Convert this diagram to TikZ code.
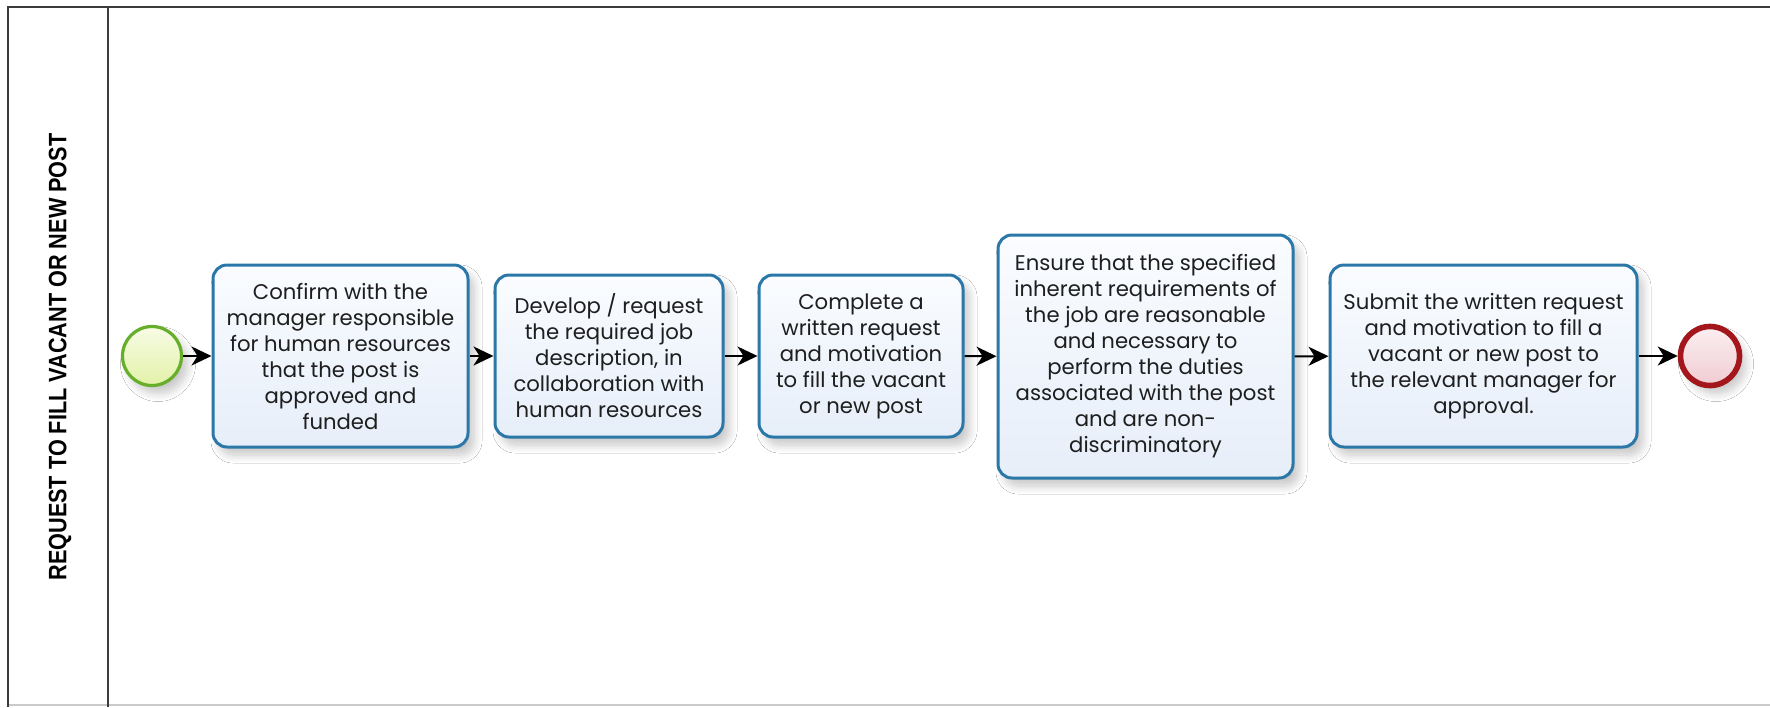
\documentclass[tikz,border=0pt]{standalone}
\usepackage{fontspec}
\setmainfont{Poppins}
\newfontfamily\lanefont[FakeStretch=0.86]{Liberation Sans}
\usetikzlibrary{arrows.meta,shadows.blur}

\definecolor{framegray}{HTML}{3C3C3C}
\definecolor{lightline}{HTML}{CACACA}
\definecolor{taskborder}{HTML}{2B78A8}
\definecolor{tasktop}{HTML}{FAFCFF}
\definecolor{taskbottom}{HTML}{E6EEF9}
\definecolor{startborder}{HTML}{67AE2B}
\definecolor{starttop}{HTML}{F8FCE6}
\definecolor{startbottom}{HTML}{E2F1A8}
\definecolor{endborder}{HTML}{A3161B}
\definecolor{endtop}{HTML}{FBEFF1}
\definecolor{endbottom}{HTML}{EFCCD2}
\definecolor{textdark}{HTML}{1E1E1E}

\tikzset{
  softshadow/.style={blur shadow={shadow xshift=3pt, shadow yshift=-4pt,
      shadow blur radius=4pt, shadow blur steps=10, shadow opacity=22}},
  task/.style={draw=taskborder, line width=1.5pt, rounded corners=7pt,
      top color=tasktop, bottom color=taskbottom, softshadow,
      align=center, inner sep=2pt, text=textdark,
      font=\fontsize{10.6}{13}\selectfont},
  startevent/.style={circle, draw=startborder, line width=1.6pt,
      top color=starttop, bottom color=startbottom, minimum size=29.5pt,
      inner sep=0pt, softshadow},
  endevent/.style={circle, draw=endborder, line width=2.8pt,
      top color=endtop, bottom color=endbottom, minimum size=29.5pt,
      inner sep=0pt, softshadow},
  flow/.style={draw=black, line width=1pt,
      -{Stealth[length=10pt, width=9.5pt, inset=3pt]}},
  laneline/.style={draw=framegray, line width=1.4pt},
}

\begin{document}
\begin{tikzpicture}[x=0.5pt, y=-0.5pt]
  \useasboundingbox (0,0) rectangle (1770,707);
  \fill[white] (0,0) rectangle (1770,707);

  % pool frame and lane header
  \draw[lightline, line width=1pt] (8,705) -- (1770,705);
  \draw[laneline] (1770,7) -- (8,7) -- (8,707);
  \draw[laneline] (108,7) -- (108,707);
  \node[rotate=90, font=\lanefont\bfseries\fontsize{12.6}{14}\selectfont, text=black]
    (lane) at (60,357) {REQUEST TO FILL VACANT OR NEW POST};

  % events and tasks
  \node[startevent] (start) at (152,356) {};
  \node[task, minimum width=127.5pt, minimum height=91pt] (t1) at (340.5,356)
    {Confirm with the\\manager responsible\\for human resources\\that the post is\\approved and\\funded};
  \node[task, minimum width=114pt, minimum height=81pt] (t2) at (609,356)
    {Develop / request\\the required job\\description, in\\collaboration with\\human resources};
  \node[task, minimum width=102pt, minimum height=81pt] (t3) at (861,356)
    {Complete a\\written request\\and motivation\\to fill the vacant\\or new post};
  \node[task, minimum width=147.5pt, minimum height=121.5pt] (t4) at (1145.5,356.5)
    {Ensure that the specified\\inherent requirements of\\the job are reasonable\\and necessary to\\perform the duties\\associated with the post\\and are non-\\discriminatory};
  \node[task, minimum width=153.5pt, minimum height=91pt] (t5) at (1483.5,356)
    {Submit the written request\\and motivation to fill a\\vacant or new post to\\the relevant manager for\\approval.};
  \node[endevent] (end) at (1710,356) {};

  % sequence flows
  \draw[flow] (start) -- (t1);
  \draw[flow] (t1) -- (t2);
  \draw[flow] (t2) -- (t3);
  \draw[flow] (t3) -- (t4);
  \draw[flow] (t4) -- (t5);
  \draw[flow] (t5) -- (end);
\end{tikzpicture}
\end{document}
